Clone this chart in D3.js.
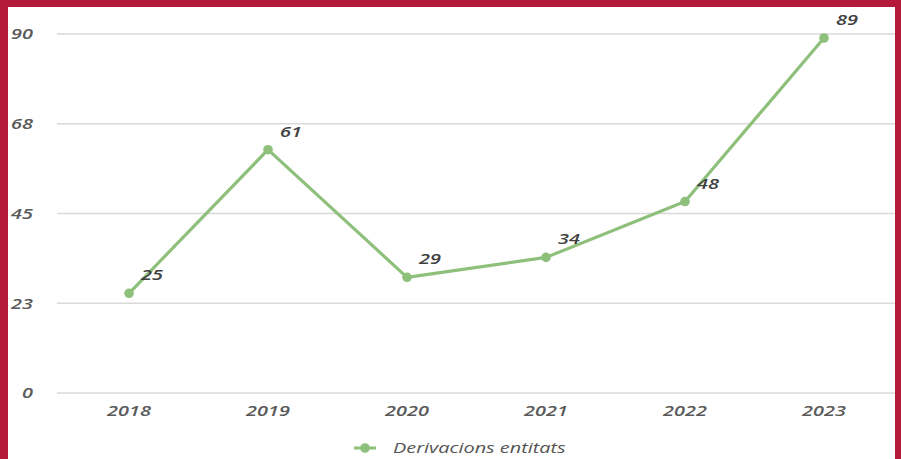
<!DOCTYPE html>
<html><head><meta charset="utf-8">
<script src="https://cdn.jsdelivr.net/npm/d3@7"></script>
<style>
html,body{margin:0;padding:0;background:#fff;}
svg{display:block;}
text{font-family:"Open Sans","DejaVu Sans",sans-serif;font-style:italic;}
</style></head>
<body>
<svg id="chart" width="901" height="459"></svg>
<script>
const categories = ["2018","2019","2020","2021","2022","2023"];
const values = [25, 61, 29, 34, 48, 89];
const yTicks = [0, 22.5, 45, 67.5, 90];
const yTickLabels = ["0","23","45","68","90"];
const seriesName = "Derivacions entitats";

const svg = d3.select("#chart");
const W = 901, H = 459;
const crimson = "#B51A3B";
const green = "#8EC07C";
const SX = 1.42;

svg.append("rect").attr("width", W).attr("height", H).attr("fill", "#fff");

const x = d3.scaleBand().domain(categories).range([59.5, 893.5]);
const y = d3.scaleLinear().domain([0, 90]).range([393, 34]);

// gridlines
const grid = svg.append("g");
grid.selectAll("line").data(yTicks).join("line")
  .attr("x1", 57).attr("x2", W)
  .attr("y1", d => y(d)).attr("y2", d => y(d))
  .attr("stroke", "#d9d9d9").attr("stroke-width", 1.5);

// y labels
const yAxis = d3.axisLeft(y).tickValues(yTicks).tickSize(0)
  .tickFormat((d, i) => yTickLabels[i]);
const gy = svg.append("g").attr("transform", "translate(33,0)").call(yAxis);
gy.select(".domain").remove();
gy.selectAll("text").attr("x", 0).attr("dy", "0.35em")
  .attr("transform", `scale(${SX},1)`)
  .attr("fill", "#595959").attr("font-size", 14).attr("font-weight", 600).attr("font-style", "italic");

// x labels
const xAxis = d3.axisBottom(x).tickSize(0);
const gx = svg.append("g").attr("transform", "translate(0,406)").call(xAxis);
gx.select(".domain").remove();
gx.selectAll("text").attr("y", 0).attr("dy", "0.71em")
  .attr("transform", `scale(${SX},1)`)
  .attr("fill", "#595959").attr("font-size", 14).attr("font-weight", 600).attr("font-style", "italic");

const data = categories.map((c, i) => ({c, v: values[i]}));
const cx = d => x(d.c) + x.bandwidth() / 2;

svg.append("path").datum(data)
  .attr("fill", "none").attr("stroke", green).attr("stroke-width", 3.2)
  .attr("stroke-linejoin", "round")
  .attr("d", d3.line().x(cx).y(d => y(d.v)));

svg.append("g").selectAll("circle").data(data).join("circle")
  .attr("cx", cx).attr("cy", d => y(d.v)).attr("r", 4.8).attr("fill", green);

svg.append("g").selectAll("text").data(data).join("text")
  .attr("transform", d => `translate(${cx(d) + 12},${y(d.v) - 13}) scale(${SX},1)`)
  .attr("font-size", 14).attr("font-weight", 600).attr("fill", "#404040").attr("font-style", "italic")
  .text(d => d.v);

// legend
const lg = svg.append("g").attr("transform", "translate(365,448)");
lg.append("line").attr("x1", -11).attr("x2", 11).attr("y1", 0).attr("y2", 0)
  .attr("stroke", green).attr("stroke-width", 3);
lg.append("circle").attr("r", 4.8).attr("fill", green);
lg.append("text").attr("transform", `translate(28,0) scale(${SX},1)`).attr("dy", "0.35em")
  .attr("font-size", 14).attr("fill", "#555").attr("font-style", "italic")
  .text(seriesName);

// crimson frame
svg.append("rect").attr("x", 0).attr("y", 0).attr("width", 8).attr("height", H).attr("fill", crimson);
svg.append("rect").attr("x", 0).attr("y", 0).attr("width", W).attr("height", 7).attr("fill", crimson);
svg.append("rect").attr("x", 895).attr("y", 0).attr("width", 6).attr("height", H).attr("fill", crimson);
</script>
</body></html>
